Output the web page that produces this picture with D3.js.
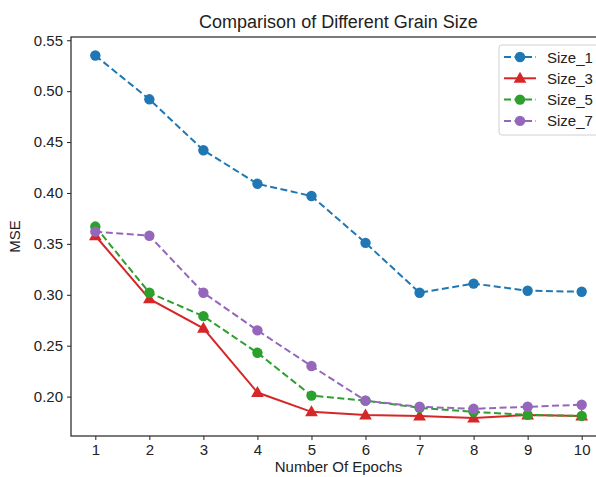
<!DOCTYPE html>
<html>
<head>
<meta charset="utf-8">
<script src="https://cdn.jsdelivr.net/npm/d3@7"></script>
<style>
  body { margin: 0; background: #fff; }
  svg text { font-family: "Liberation Sans", Arial, sans-serif; fill: #222; }
</style>
</head>
<body>
<div id="chart"></div>
<script>
// MSE per epoch for each grain size
const epochs = [1, 2, 3, 4, 5, 6, 7, 8, 9, 10];
const size1 = [0.535, 0.492, 0.442, 0.409, 0.397, 0.351, 0.302, 0.311, 0.304, 0.303];
const size3 = [0.358, 0.296, 0.267, 0.204, 0.185, 0.182, 0.181, 0.179, 0.182, 0.181];
const size5 = [0.367, 0.302, 0.279, 0.243, 0.201, 0.196, 0.189, 0.185, 0.182, 0.181];
const size7 = [0.362, 0.358, 0.302, 0.265, 0.230, 0.196, 0.190, 0.188, 0.190, 0.192];
const yTicks = [0.20, 0.25, 0.30, 0.35, 0.40, 0.45, 0.50, 0.55];

const series = [
    {name: "Size_1", values: size1, color: "#1f77b4", dashed: true, marker: "circle"},
    {name: "Size_3", values: size3, color: "#d62728", dashed: false, marker: "triangle"},
    {name: "Size_5", values: size5, color: "#2ca02c", dashed: true, marker: "circle"},
    {name: "Size_7", values: size7, color: "#9467bd", dashed: true, marker: "circle"}
];

const width = 596, height = 477;
const plot = {left: 71, right: 606, top: 37, bottom: 436};
const labelSize = "15px";

const svg = d3.select("#chart").append("svg")
    .attr("width", width)
    .attr("height", height);

const x = d3.scaleLinear().domain([0.55, 10.45]).range([plot.left, plot.right]);
const y = d3.scaleLinear().domain([0.1613, 0.5532]).range([plot.bottom, plot.top]);

// title
svg.append("text")
    .attr("x", (plot.left + plot.right) / 2)
    .attr("y", 28)
    .attr("text-anchor", "middle")
    .style("font-size", "18px")
    .text("Comparison of Different Grain Size");

// axes
const xAxis = svg.append("g")
    .attr("transform", "translate(0," + plot.bottom + ")")
    .call(d3.axisBottom(x).tickValues(epochs).tickFormat(d3.format("d")).tickSize(4).tickPadding(4).tickSizeOuter(0));
const yAxis = svg.append("g")
    .attr("transform", "translate(" + plot.left + ",0)")
    .call(d3.axisLeft(y).tickValues(yTicks).tickFormat(d3.format(".2f")).tickSize(4).tickPadding(4).tickSizeOuter(0));

[xAxis, yAxis].forEach(a => {
    a.select(".domain").remove();
    a.selectAll("line").attr("stroke", "#222").attr("stroke-width", 1);
    a.selectAll("text").style("font-size", labelSize).style("font-family", "Liberation Sans, Arial, sans-serif").attr("fill", "#222");
});

// frame
svg.append("rect")
    .attr("x", plot.left)
    .attr("y", plot.top)
    .attr("width", plot.right - plot.left)
    .attr("height", plot.bottom - plot.top)
    .attr("fill", "none")
    .attr("stroke", "#222")
    .attr("stroke-width", 1.2);

// axis labels
svg.append("text")
    .attr("x", (plot.left + plot.right) / 2)
    .attr("y", 472)
    .attr("text-anchor", "middle")
    .style("font-size", labelSize)
    .text("Number Of Epochs");
svg.append("text")
    .attr("transform", "translate(20," + (plot.top + plot.bottom) / 2 + ") rotate(-90)")
    .attr("text-anchor", "middle")
    .style("font-size", labelSize)
    .text("MSE");

const line = d3.line().x((d, i) => x(epochs[i])).y(d => y(d));
const tri = d3.symbol().type(d3.symbolTriangle).size(70);

function drawMarker(g, s, px, py) {
    if (s.marker === "circle") {
        g.append("circle").attr("cx", px).attr("cy", py).attr("r", 5.2).attr("fill", s.color);
    } else {
        g.append("path").attr("d", tri()).attr("transform", "translate(" + px + "," + (py + 0.8) + ")").attr("fill", s.color);
    }
}

series.forEach(s => {
    const g = svg.append("g");
    g.append("path")
        .attr("d", line(s.values))
        .attr("fill", "none")
        .attr("stroke", s.color)
        .attr("stroke-width", 2)
        .attr("stroke-dasharray", s.dashed ? "7,3.5" : null);
    s.values.forEach((v, i) => drawMarker(g, s, x(epochs[i]), y(v)));
});

// legend
const lg = svg.append("g");
lg.append("rect")
    .attr("x", 499).attr("y", 45)
    .attr("width", 104).attr("height", 90)
    .attr("rx", 3)
    .attr("fill", "rgba(255,255,255,0.8)")
    .attr("stroke", "#d0d0d0");
series.forEach((s, i) => {
    const ly = 57 + i * 21.3;
    lg.append("line")
        .attr("x1", 504).attr("x2", 536)
        .attr("y1", ly).attr("y2", ly)
        .attr("stroke", s.color)
        .attr("stroke-width", 2)
        .attr("stroke-dasharray", s.dashed ? "7,3.5" : null);
    drawMarker(lg, s, 520, ly);
    lg.append("text")
        .attr("x", 547).attr("y", ly + 5.5)
        .style("font-size", labelSize)
        .text(s.name);
});
</script>
</body>
</html>
